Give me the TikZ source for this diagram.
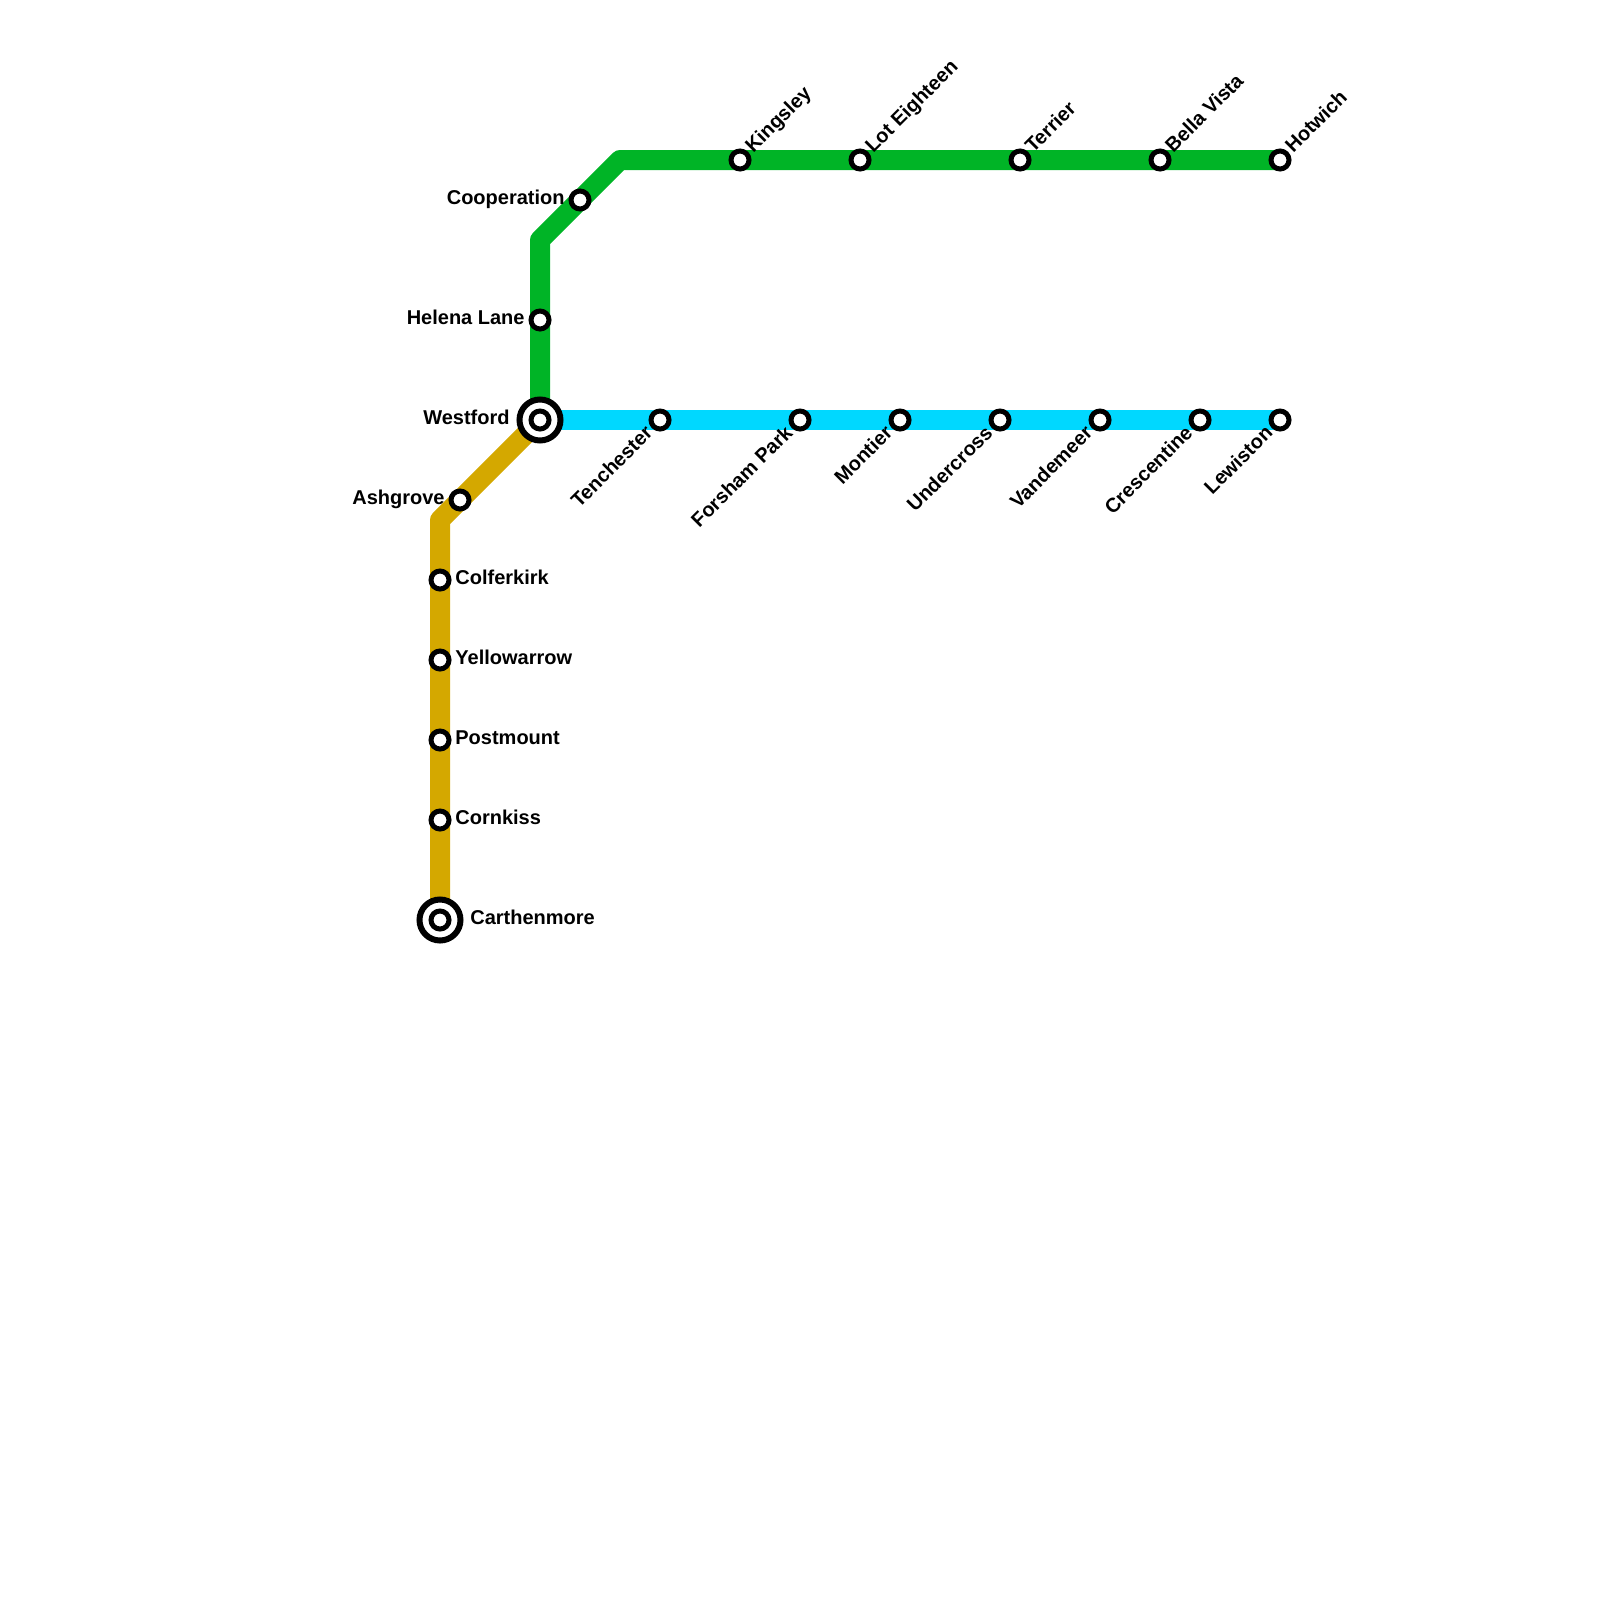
\documentclass[tikz,border=0pt]{standalone}
\usepackage{fontspec}
\setmainfont{Liberation Sans}
\begin{document}
\begin{tikzpicture}[x=0.5pt,y=-0.5pt,
  route/.style={line width=10pt,line join=round},
  stopmark/.style={circle,draw=black,fill=white,line width=2.5pt,minimum size=9pt,inner sep=0pt,outer sep=0pt},
  hubmark/.style={circle,draw=black,fill=white,line width=3pt,minimum size=20.5pt,inner sep=0pt,outer sep=0pt},
  tag/.style={font=\bfseries\fontsize{10}{12}\selectfont,inner sep=0pt,text=black},
  tagl/.style={tag,anchor=base east},
  tagr/.style={tag,anchor=base west},
  tagup/.style={tag,anchor=base west,rotate=45},
  tagdn/.style={tag,anchor=base east,rotate=45}]
\useasboundingbox (0,0) rectangle (1600,1600);
\definecolor{gold}{HTML}{D4A800}
\definecolor{grn}{HTML}{00B426}
\definecolor{cyn}{HTML}{00D8FF}
% station positions
\foreach \n/\x/\y in {westford/540/420,ashgrove/460/500,goldturn/440/520,colferkirk/440/580,yellowarrow/440/660,postmount/440/740,cornkiss/440/820,carthenmore/440/920,
 helena/540/320,grnturna/540/240,cooperation/580/200,grnturnb/620/160,kingsley/740/160,loteighteen/860/160,terrier/1020/160,bellavista/1160/160,hotwich/1280/160,
 tenchester/660/420,forsham/800/420,montier/900/420,undercross/1000/420,vandemeer/1100/420,crescentine/1200/420,lewiston/1280/420}
  {\coordinate (\n) at (\x,\y);}
% routes
\draw[route,grn] (westford) -- (grnturna) -- (grnturnb) -- (hotwich);
\draw[route,cyn] (westford) -- (lewiston);
\draw[route,gold] (westford) -- (goldturn) -- (carthenmore);
% stops
\foreach \n in {ashgrove,colferkirk,yellowarrow,postmount,cornkiss,helena,cooperation,kingsley,loteighteen,terrier,bellavista,hotwich,tenchester,forsham,montier,undercross,vandemeer,crescentine,lewiston}
  {\node[stopmark] (s\n) at (\n) {};}
\foreach \n in {westford,carthenmore}
  {\node[hubmark] (h\n) at (\n) {}; \node[stopmark] (s\n) at (\n) {};}
% labels
\node[tagl] (lw) at ([xshift=-15pt,yshift=-2pt]westford) {Westford};
\node[tagl] (la) at ([xshift=-7.5pt,yshift=-2pt]ashgrove) {Ashgrove};
\node[tagl] (lh) at ([xshift=-7.5pt,yshift=-2pt]helena) {Helena Lane};
\node[tagl] (lc) at ([xshift=-7.5pt,yshift=-2pt]cooperation) {Cooperation};
\node[tagr] (l1) at ([xshift=7.5pt,yshift=-2pt]colferkirk) {Colferkirk};
\node[tagr] (l2) at ([xshift=7.5pt,yshift=-2pt]yellowarrow) {Yellowarrow};
\node[tagr] (l3) at ([xshift=7.5pt,yshift=-2pt]postmount) {Postmount};
\node[tagr] (l4) at ([xshift=7.5pt,yshift=-2pt]cornkiss) {Cornkiss};
\node[tagr] (l5) at ([xshift=15pt,yshift=-2pt]carthenmore) {Carthenmore};
\foreach \n/\t in {kingsley/Kingsley,loteighteen/Lot Eighteen,terrier/Terrier,bellavista/Bella Vista,hotwich/Hotwich}
  {\node[tagup] (u\n) at ([xshift=6.5pt,yshift=3pt]\n) {\t};}
\foreach \n/\t in {tenchester/Tenchester,forsham/Forsham Park,montier/Montier,undercross/Undercross,vandemeer/Vandemeer,crescentine/Crescentine,lewiston/Lewiston}
  {\node[tagdn] (d\n) at ([xshift=-3pt,yshift=-7pt]\n) {\t};}
\end{tikzpicture}
\end{document}
